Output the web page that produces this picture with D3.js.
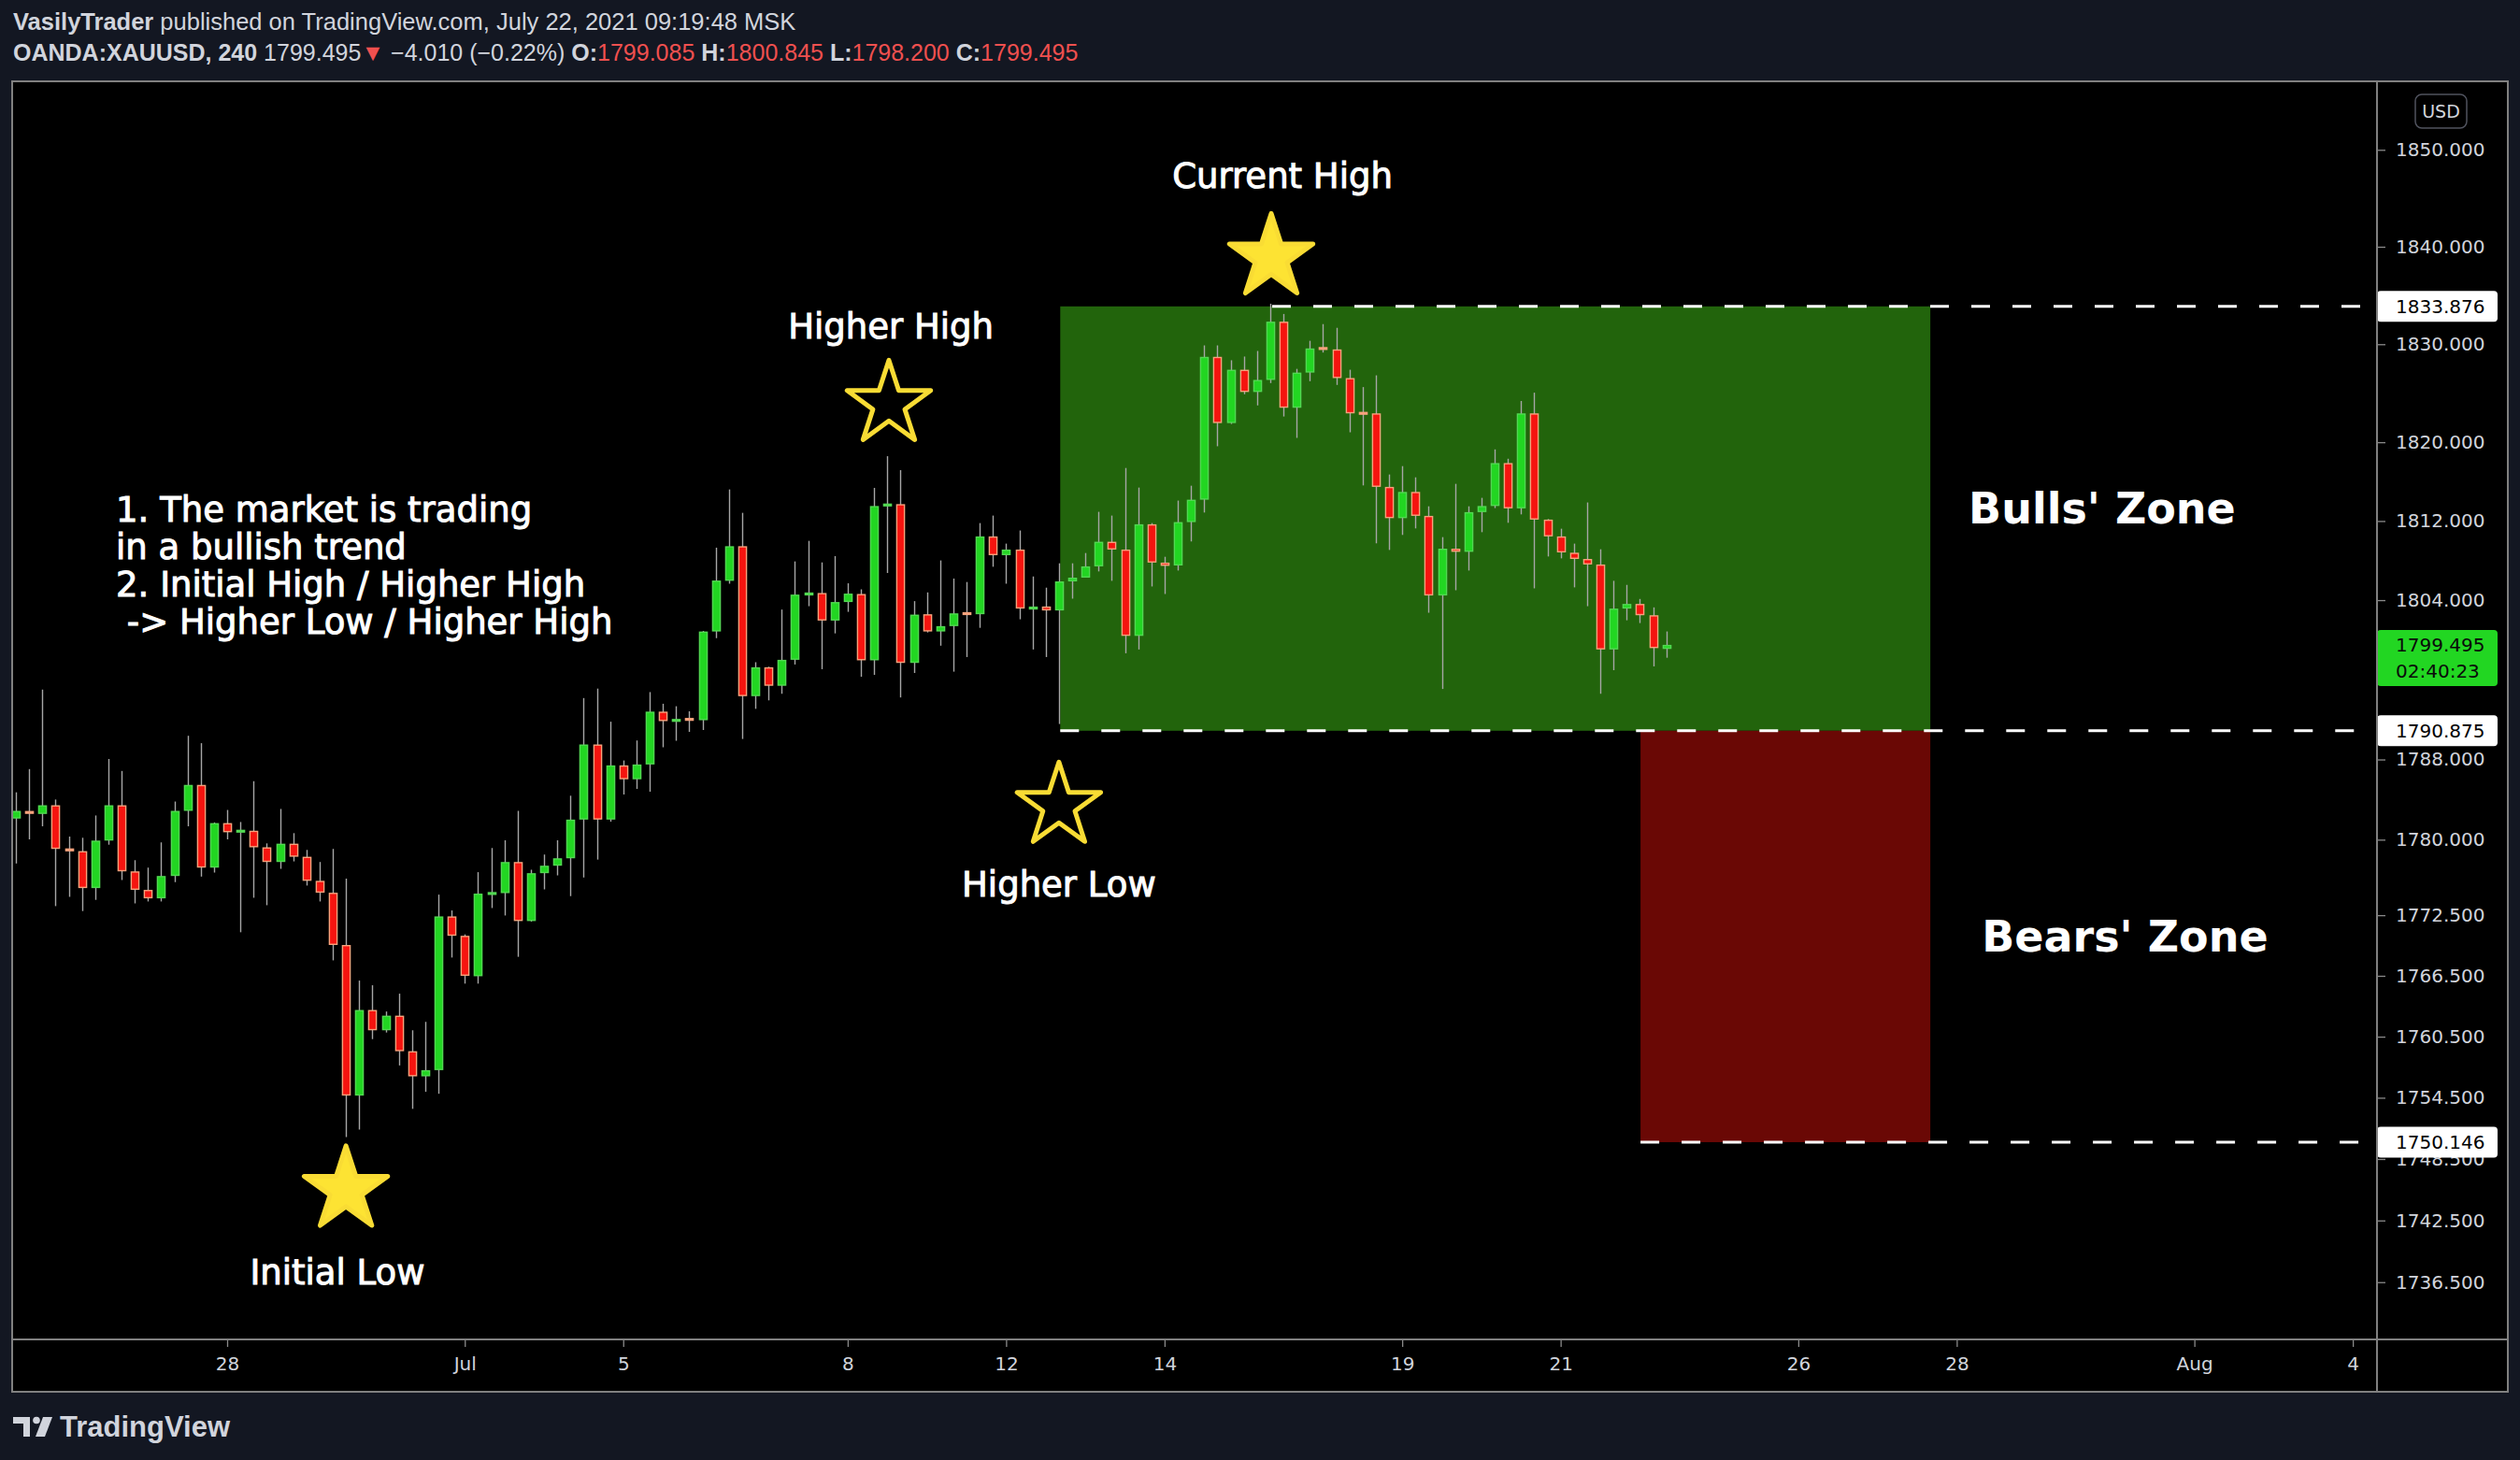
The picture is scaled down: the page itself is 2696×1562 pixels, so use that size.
<!DOCTYPE html>
<html><head><meta charset="utf-8">
<script src="https://cdn.jsdelivr.net/npm/d3@7"></script>
<style>
html,body{margin:0;padding:0;background:#131722;}
svg{display:block;}
text{white-space:pre;}
</style></head><body>
<svg id="chart" width="2696" height="1562"></svg>
<script>
// ---------------- DATA ----------------
const openP = [1782.10,1782.75,1782.56,1783.43,1779.02,1778.86,1775.19,1779.91,1783.43,1776.85,
1775.01,1774.17,1776.39,1782.87,1785.46,1777.22,1781.65,1780.80,1780.89,1779.24,
1777.78,1779.60,1778.30,1775.91,1774.73,1769.55,1754.71,1763.13,1761.13,1762.57,
1759.07,1756.60,1757.21,1772.38,1770.46,1766.46,1774.62,1774.69,1777.78,1771.92,
1776.67,1777.41,1778.15,1782.00,1789.50,1782.00,1787.41,1786.02,1787.50,1792.79,
1791.88,1792.05,1791.93,1800.84,1805.95,1809.45,1794.34,1797.24,1795.38,1797.99,
1804.62,1804.72,1801.94,1803.81,1804.62,1797.94,1813.60,1813.71,1797.68,1802.58,
1800.84,1801.38,1802.68,1802.58,1810.44,1808.54,1809.11,1803.20,1803.36,1802.96,
1805.89,1806.27,1807.41,1809.90,1809.11,1800.40,1811.67,1807.79,1807.50,1811.89,
1814.16,1828.71,1821.95,1827.39,1825.12,1826.35,1832.31,1823.51,1827.10,1829.60,
1829.47,1826.54,1822.98,1822.94,1815.46,1812.29,1814.95,1812.52,1804.47,1809.20,
1808.88,1812.90,1813.52,1817.88,1813.28,1822.94,1812.14,1810.44,1808.79,1808.16,
1807.60,1799.03,1803.15,1803.62,1802.48,1799.085];
const highP = [1784.72,1787.04,1795.00,1784.00,1780.31,1780.19,1782.41,1788.05,1786.85,1777.96,
1777.22,1779.73,1783.80,1790.37,1789.63,1781.72,1782.96,1781.76,1785.83,1779.63,
1783.06,1780.65,1778.98,1777.78,1779.08,1776.12,1766.03,1765.57,1762.98,1764.74,
1761.13,1761.96,1774.54,1772.97,1770.60,1776.77,1779.17,1779.94,1782.87,1777.01,
1778.52,1779.94,1784.38,1794.15,1795.10,1791.78,1787.90,1789.90,1794.75,1793.58,
1793.33,1792.82,1800.90,1809.30,1815.20,1812.83,1797.75,1797.30,1803.05,1807.91,
1809.99,1807.81,1808.45,1805.70,1805.09,1815.36,1818.58,1817.16,1803.90,1804.78,
1808.01,1806.18,1805.83,1811.79,1812.55,1809.71,1811.04,1806.39,1805.26,1807.72,
1807.72,1808.76,1812.93,1812.55,1817.38,1815.39,1811.79,1808.38,1814.07,1815.58,
1829.88,1829.88,1828.36,1828.74,1829.31,1834.15,1833.10,1827.48,1830.35,1832.06,
1831.68,1827.39,1825.62,1826.82,1816.72,1817.57,1816.43,1813.49,1810.37,1815.77,
1813.49,1814.35,1819.27,1818.32,1824.20,1825.05,1812.20,1811.22,1809.71,1813.88,
1809.14,1805.95,1805.54,1804.12,1803.27,1800.845];
const lowP = [1777.63,1780.03,1781.33,1773.40,1774.32,1772.91,1774.02,1779.50,1775.99,1773.67,
1773.86,1773.86,1775.78,1781.33,1776.33,1776.73,1780.03,1770.81,1774.23,1773.49,
1777.10,1777.84,1775.44,1773.86,1768.03,1750.64,1751.38,1760.26,1760.91,1757.67,
1753.41,1755.08,1754.89,1768.31,1765.73,1765.73,1773.21,1772.47,1768.38,1771.86,
1775.06,1776.45,1774.39,1776.24,1778.02,1781.79,1784.50,1785.06,1784.78,1789.22,
1789.87,1790.76,1790.95,1800.17,1805.66,1790.05,1793.07,1793.92,1794.58,1797.52,
1803.39,1797.05,1800.65,1802.82,1796.29,1796.48,1806.74,1794.21,1796.67,1800.74,
1799.41,1796.80,1798.27,1801.21,1807.37,1805.66,1802.07,1799.03,1798.27,1791.55,
1804.15,1806.27,1806.90,1805.95,1798.65,1799.03,1805.38,1804.62,1806.99,1809.93,
1812.86,1819.59,1821.86,1824.89,1823.75,1826.03,1822.62,1820.44,1826.22,1829.15,
1825.84,1821.01,1815.61,1809.74,1809.07,1810.59,1811.25,1802.73,1795.06,1805.00,
1806.99,1810.87,1813.31,1811.82,1812.67,1805.19,1808.41,1808.22,1805.29,1803.39,
1794.58,1796.95,1801.97,1801.69,1797.33,1798.20];
const closeP = [1782.87,1782.60,1783.43,1779.08,1778.95,1775.19,1779.91,1783.43,1776.85,1775.01,
1774.17,1776.39,1782.87,1785.46,1777.22,1781.65,1780.74,1780.88,1779.24,1777.78,
1779.60,1778.30,1775.91,1774.73,1769.55,1754.71,1763.13,1761.13,1762.57,1759.07,
1756.60,1757.21,1772.38,1770.46,1766.50,1774.64,1774.69,1777.78,1771.92,1776.67,
1777.41,1778.15,1782.00,1789.50,1782.00,1787.41,1786.02,1787.50,1792.79,1791.84,
1791.95,1791.95,1800.84,1805.98,1809.45,1794.34,1797.24,1795.38,1797.99,1804.56,
1804.66,1801.94,1803.81,1804.66,1797.94,1813.52,1813.66,1797.68,1802.54,1800.84,
1801.38,1802.67,1802.60,1810.44,1808.54,1809.11,1803.15,1803.24,1802.96,1805.89,
1806.27,1807.41,1809.90,1809.11,1800.40,1811.67,1807.79,1807.46,1811.89,1814.16,
1828.71,1821.95,1827.39,1825.12,1826.35,1832.31,1823.51,1827.10,1829.57,1829.50,
1826.54,1822.94,1822.90,1815.46,1812.29,1814.95,1812.52,1804.47,1809.20,1808.88,
1812.90,1813.52,1817.88,1813.28,1822.94,1812.14,1810.44,1808.82,1808.16,1807.60,
1799.03,1803.15,1803.62,1802.48,1799.17,1799.495];

const priceTicks = [1850,1840,1830,1820,1812,1804,1796,1788,1780,1772.5,1766.5,1760.5,1754.5,1748.5,1742.5,1736.5];
const timeTickBars = [16,34,46,63,75,87,105,117,135,147,165,177];
const timeTickLabels = ["28","Jul","5","8","12","14","19","21","26","28","Aug","4"];

// horizontal levels (dashed) : price and starting bar
const levelPrices = [1833.876, 1790.875, 1750.146];
const levelStartBars = [95.15, 79.1, 123.05];

// zones: [startBar, endBar, topPrice, bottomPrice]
const bullZone = [79.1, 145, 1833.876, 1790.875];
const bearZone = [123.05, 145, 1790.875, 1750.146];

const lastPrice = 1799.495;
const countdown = "02:40:23";

// stars: bar, price, filled
const starBars = [95.08, 66.12, 79.0, 25.0];
const starPrices = [1838.9, 1823.88, 1783.36, 1745.49];
const starFilled = [true, false, false, true];

// labels near stars
const noteTexts = ["Current High", "Higher High", "Higher Low", "Initial Low"];
const noteBars = [95.93, 66.27, 79.0, 24.35];
const notePrices = [1846.07, 1830.63, 1774.34, 1736.34];

const introLines = ["1. The market is trading", "in a bullish trend", "2. Initial High / Higher High", " -> Higher Low / Higher High"];
const introBar = 7.58, introPrice = 1811.90;

const zoneTexts = ["Bulls' Zone", "Bears' Zone"];
const zoneTextBars = [147.9, 148.9];
const zoneTextPrices = [1811.8, 1768.9];

// ---------------- LAYOUT ----------------
const plot = {left: 14, right: 2542, top: 87, bottom: 1432};
const axisBottomY = 1489, frameRight = 2683;

const x = d3.scaleLinear().domain([-0.2124, 178.76]).range([plot.left, plot.right]);
const y = d3.scaleLog().domain([1857.10, 1731.04]).range([plot.top, plot.bottom]);

const svg = d3.select("#chart");
const AXIS_FONT = "'DejaVu Sans', sans-serif";

// chart background
svg.append("rect").attr("x", plot.left).attr("y", plot.top)
  .attr("width", frameRight - plot.left).attr("height", axisBottomY - plot.top).attr("fill", "#000");

const defs = svg.append("defs");
defs.append("clipPath").attr("id", "plotClip").append("rect")
  .attr("x", plot.left).attr("y", plot.top).attr("width", plot.right - plot.left).attr("height", plot.bottom - plot.top);

const g = svg.append("g").attr("clip-path", "url(#plotClip)");

// zones
[[bullZone, "#22640c"], [bearZone, "#6a0805"]].forEach(([z, col]) => {
  g.append("rect")
    .attr("x", x(z[0])).attr("y", y(z[2]))
    .attr("width", x(z[1]) - x(z[0])).attr("height", y(z[3]) - y(z[2]))
    .attr("fill", col);
});

// candles
const idx = d3.range(openP.length);
const bodyW = 9.6, inset = 1.4;
const cg = g.append("g");
cg.selectAll("line.wick").data(idx).join("line")
  .attr("class", "wick")
  .attr("x1", i => Math.round(x(i)) + 0.5).attr("x2", i => Math.round(x(i)) + 0.5)
  .attr("y1", i => y(highP[i])).attr("y2", i => y(lowP[i]))
  .attr("stroke", "#a6a6a6").attr("stroke-width", 1.4);

function bodyTop(i){ return Math.min(y(openP[i]), y(closeP[i])); }
function bodyH(i){ return Math.max(Math.abs(y(openP[i]) - y(closeP[i])), 3.2); }
const up = i => closeP[i] >= openP[i];

cg.selectAll("rect.outer").data(idx).join("rect")
  .attr("class", "outer")
  .attr("x", i => Math.round(x(i)) + 0.5 - bodyW / 2)
  .attr("y", i => bodyTop(i) - (bodyH(i) === 3.2 ? 1.2 : 0))
  .attr("width", bodyW).attr("height", bodyH)
  .attr("fill", i => up(i) ? "#52d852" : "#f7a27c");
cg.selectAll("rect.inner").data(idx.filter(i => bodyH(i) > 2 * inset + 0.5)).join("rect")
  .attr("class", "inner")
  .attr("x", i => Math.round(x(i)) + 0.5 - bodyW / 2 + inset)
  .attr("y", i => bodyTop(i) - (bodyH(i) === 3.2 ? 1.2 : 0) + inset)
  .attr("width", bodyW - 2 * inset).attr("height", i => bodyH(i) - 2 * inset)
  .attr("fill", i => up(i) ? "#22d622" : "#f5140f");

// dashed levels
levelPrices.forEach((p, k) => {
  g.append("line")
    .attr("x1", x(levelStartBars[k])).attr("x2", plot.right)
    .attr("y1", y(p)).attr("y2", y(p))
    .attr("stroke", "#ffffff").attr("stroke-width", 3)
    .attr("stroke-dasharray", "20,24");
});

// stars
function starPath(cx, cy, R) {
  const r = R * 0.382, pts = [];
  for (let k = 0; k < 10; k++) {
    const ang = -Math.PI / 2 + k * Math.PI / 5;
    const rad = k % 2 === 0 ? R : r;
    pts.push([cx + rad * Math.cos(ang), cy + rad * Math.sin(ang)]);
  }
  return "M" + pts.map(p => p[0].toFixed(1) + "," + p[1].toFixed(1)).join("L") + "Z";
}
starBars.forEach((b, k) => {
  g.append("path")
    .attr("d", starPath(x(b), y(starPrices[k]), 47))
    .attr("fill", starFilled[k] ? "#fde333" : "none")
    .attr("stroke", "#f9dc34").attr("stroke-width", 5).attr("stroke-linejoin", "round");
});

// note texts (semi-bold look via thin stroke)
const NOTE_FONT = "'DejaVu Sans', sans-serif";
noteTexts.forEach((t, k) => {
  g.append("text").attr("x", x(noteBars[k])).attr("y", y(notePrices[k]))
    .attr("text-anchor", "middle").attr("fill", "#ffffff")
    .attr("stroke", "#ffffff").attr("stroke-width", 1)
    .attr("font-family", NOTE_FONT).attr("font-size", 37).text(t);
});
const intro = g.append("text").attr("fill", "#ffffff")
  .attr("stroke", "#ffffff").attr("stroke-width", 1)
  .attr("font-family", NOTE_FONT).attr("font-size", 37);
introLines.forEach((t, k) => {
  intro.append("tspan").attr("x", x(introBar)).attr("y", y(introPrice) + k * 40).text(t);
});
zoneTexts.forEach((t, k) => {
  g.append("text").attr("x", x(zoneTextBars[k])).attr("y", y(zoneTextPrices[k]))
    .attr("fill", "#ffffff").attr("font-family", NOTE_FONT)
    .attr("font-weight", "bold").attr("font-size", 46).text(t);
});

// ---------------- AXES ----------------
const yAxis = d3.axisRight(y).tickValues(priceTicks).tickFormat(d3.format(".3f"))
  .tickSize(9).tickPadding(11);
const yg = svg.append("g").attr("transform", `translate(${plot.right + 1},0)`).call(yAxis);
yg.select(".domain").remove();
yg.selectAll(".tick line").attr("stroke", "#8a8a8a").attr("stroke-width", 1.3);
yg.selectAll(".tick text").attr("fill", "#d1d4dc").attr("font-family", AXIS_FONT).attr("font-size", 20);

const xAxis = d3.axisBottom(x).tickValues(timeTickBars)
  .tickFormat((d, k) => timeTickLabels[k]).tickSize(8).tickPadding(11);
const xg = svg.append("g").attr("transform", `translate(0,${plot.bottom + 1})`).call(xAxis);
xg.select(".domain").remove();
xg.selectAll(".tick line").attr("stroke", "#8a8a8a").attr("stroke-width", 1.3);
xg.selectAll(".tick text").attr("fill", "#d1d4dc").attr("font-family", AXIS_FONT).attr("font-size", 20);

// price labels (levels)
const labelW = 129;
levelPrices.forEach(p => {
  const cy = y(p);
  svg.append("rect").attr("x", plot.right + 1).attr("y", cy - 16.5)
    .attr("width", labelW).attr("height", 33).attr("rx", 4).attr("fill", "#ffffff");
  svg.append("text").attr("x", plot.right + 21).attr("y", cy).attr("dy", "0.36em")
    .attr("fill", "#000").attr("font-family", AXIS_FONT).attr("font-size", 20)
    .text(d3.format(".3f")(p));
});
// last price label
{
  const cy = y(lastPrice);
  svg.append("rect").attr("x", plot.right + 1).attr("y", cy - 16)
    .attr("width", labelW).attr("height", 60).attr("rx", 4).attr("fill", "#22d622");
  svg.append("text").attr("x", plot.right + 21).attr("y", cy).attr("dy", "0.36em")
    .attr("fill", "#0a0a0a").attr("font-family", AXIS_FONT).attr("font-size", 20)
    .text(d3.format(".3f")(lastPrice));
  svg.append("text").attr("x", plot.right + 21).attr("y", cy + 28).attr("dy", "0.36em")
    .attr("fill", "#0a0a0a").attr("font-family", AXIS_FONT).attr("font-size", 20)
    .text(countdown);
}
// USD badge
svg.append("rect").attr("x", 2584).attr("y", 101).attr("width", 55).attr("height", 36)
  .attr("rx", 7).attr("fill", "#000").attr("stroke", "#50535e").attr("stroke-width", 1.5);
svg.append("text").attr("x", 2611.5).attr("y", 119).attr("dy", "0.36em").attr("text-anchor", "middle")
  .attr("fill", "#d1d4dc").attr("font-family", AXIS_FONT).attr("font-size", 19).text("USD");

// frame lines
const frame = svg.append("g").attr("stroke", "#808080").attr("stroke-width", 2).attr("fill", "none");
frame.append("rect").attr("x", plot.left - 1).attr("y", plot.top).attr("width", frameRight - plot.left + 1).attr("height", axisBottomY - plot.top);
frame.append("line").attr("x1", plot.right + 1).attr("x2", plot.right + 1).attr("y1", plot.top).attr("y2", axisBottomY);
frame.append("line").attr("x1", plot.left - 1).attr("x2", frameRight).attr("y1", plot.bottom + 1).attr("y2", plot.bottom + 1);

// ---------------- HEADER ----------------
const HF = "'Liberation Sans', Arial, sans-serif";
const h1 = svg.append("text").attr("x", 14).attr("y", 32).attr("fill", "#d1d4dc")
  .attr("font-family", HF).attr("font-size", 25.5);
h1.append("tspan").attr("font-weight", "bold").text("VasilyTrader");
h1.append("tspan").text(" published on TradingView.com, July 22, 2021 09:19:48 MSK");

const RED = "#f0504f";
const h2 = svg.append("text").attr("x", 14).attr("y", 65).attr("fill", "#d1d4dc")
  .attr("font-family", HF).attr("font-size", 25);
h2.append("tspan").attr("font-weight", "bold").text("OANDA:XAUUSD, 240 ");
h2.append("tspan").text("1799.495");
h2.append("tspan").attr("fill", RED).text("▼");
h2.append("tspan").text(" \u22124.010 (\u22120.22%) ");
[["O:", "1799.085"], ["H:", "1800.845"], ["L:", "1798.200"], ["C:", "1799.495"]].forEach(([k, v], j) => {
  h2.append("tspan").attr("font-weight", "bold").text((j ? " " : "") + k);
  h2.append("tspan").attr("fill", RED).text(v);
});

// ---------------- FOOTER LOGO ----------------
const logo = svg.append("g").attr("fill", "#d1d4dc");
logo.append("rect").attr("x", 14).attr("y", 1516).attr("width", 18).attr("height", 7);
logo.append("rect").attr("x", 25).attr("y", 1516).attr("width", 7).attr("height", 21);
logo.append("circle").attr("cx", 39).attr("cy", 1519.5).attr("r", 3.8);
logo.append("path").attr("d", "M46,1516 L56,1516 L48,1537 L38,1537 Z");
svg.append("text").attr("x", 64).attr("y", 1537).attr("fill", "#d1d4dc")
  .attr("font-family", HF).attr("font-weight", "bold").attr("font-size", 31).text("TradingView");
</script>
</body></html>
